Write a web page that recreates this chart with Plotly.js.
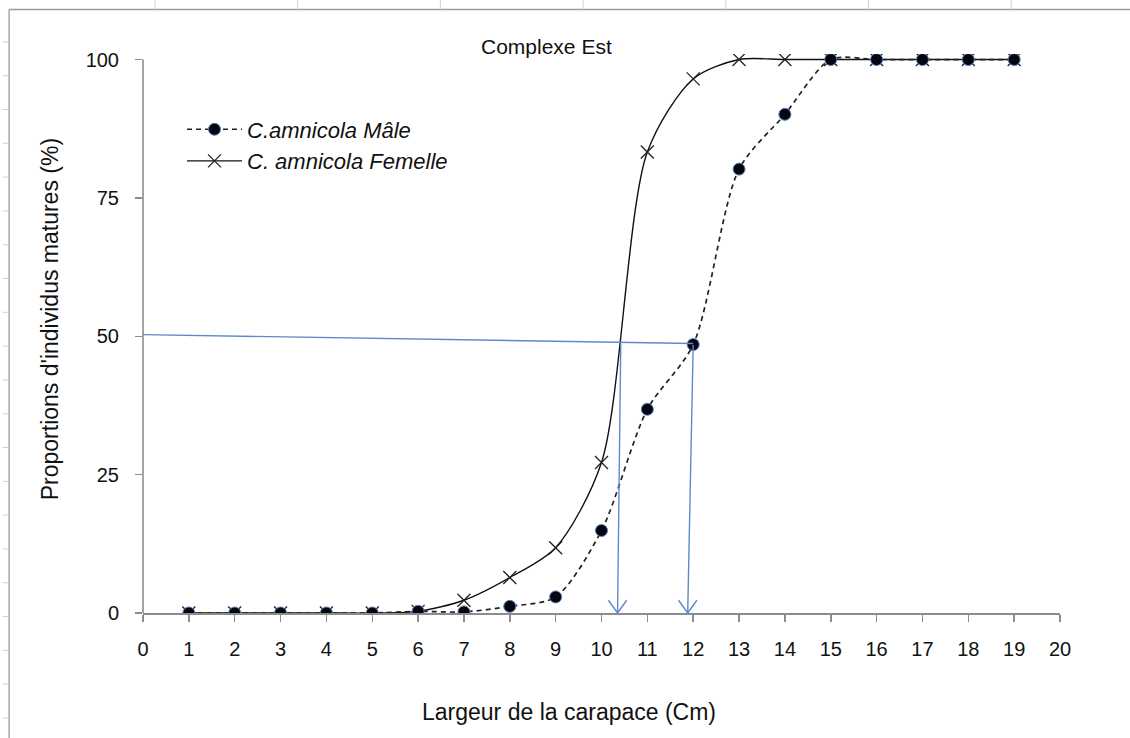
<!DOCTYPE html>
<html>
<head>
<meta charset="utf-8">
<script src="https://cdn.plot.ly/plotly-3.0.1.min.js"></script>
<style>html,body{margin:0;padding:0;background:#fff;}#chart{width:1130px;height:738px;}</style>
</head>
<body>
<div id="chart"></div>
<script>
// Data
const sizes = [1,2,3,4,5,6,7,8,9,10,11,12,13,14,15,16,17,18,19];
const maleValues = [0,0,0,0,0,0.3,0.2,1.2,2.9,14.9,36.8,48.5,80.2,90.1,100,100,100,100,100];
const femaleValues = [0,0,0,0,0,0.3,2.3,6.4,11.8,27.2,83.3,96.5,100,100,100,100,100,100,100];
const xTicks = [0,1,2,3,4,5,6,7,8,9,10,11,12,13,14,15,16,17,18,19,20];
const yTicks = [0,25,50,75,100];
// L50 reading guides (blue)
const guideStart = {x: 0, y: 50.3};
const guideEnd = {x: 12, y: 48.7};
const arrowTops = [{x: 10.42, y: 48.9}, {x: 12, y: 48.7}];
const arrowTips = [10.35, 11.88];

const blue = '#5b8bc9';
const axisGrey = '#8c8c8c';
const FONT = 'Liberation Sans, Arial, sans-serif';

const traces = [
  {
    x: sizes, y: femaleValues, name: 'C. amnicola Femelle',
    mode: 'lines+markers', type: 'scatter',
    line: {color: '#111', width: 1.4, shape: 'spline', smoothing: 0.8},
    marker: {symbol: 'x-thin', size: 13, line: {color: '#222', width: 1.3}, color: '#222'}
  },
  {
    x: sizes, y: maleValues, name: 'C.amnicola Mâle',
    mode: 'lines+markers', type: 'scatter',
    line: {color: '#222', width: 1.7, dash: '5px,4px', shape: 'spline', smoothing: 0.8},
    marker: {symbol: 'circle', size: 12, color: '#050510', line: {color: '#4f81bd', width: 1}}
  }
];

const shapes = [
  // y axis line, from 0 to the top tick only
  {type: 'line', xref: 'paper', yref: 'y', x0: 0, x1: 0, y0: 0, y1: yTicks[yTicks.length - 1],
   line: {color: axisGrey, width: 1.6}, layer: 'below'},
  {type: 'line', xref: 'x', yref: 'y', x0: guideStart.x, y0: guideStart.y, x1: guideEnd.x, y1: guideEnd.y,
   line: {color: blue, width: 1.4}},
  // page frame (left and top borders)
  {type: 'line', xref: 'paper', yref: 'paper', x0: -0.146, x1: -0.146, y0: -0.3, y1: 1.0794,
   line: {color: '#9a9a9a', width: 1.3}},
  {type: 'line', xref: 'paper', yref: 'paper', x0: -0.146, x1: 1.1, y0: 1.0794, y1: 1.0794,
   line: {color: '#9a9a9a', width: 1.5}}
];
// open V arrowheads at the bottom of the guides
arrowTips.forEach(xt => {
  shapes.push({type: 'path', xref: 'x', yref: 'y',
    path: `M${xt - 0.2},2.3 L${xt},0 L${xt + 0.2},2.3`,
    line: {color: blue, width: 1.4}});
});
// faint spreadsheet ticks on the frame
for (let k = 0; k < 7; k++) {
  const px = 155 + 142.7 * k;
  const xp = (px - 143) / 917;
  shapes.push({type: 'line', xref: 'paper', yref: 'paper', x0: xp, x1: xp, y0: 1.0794, y1: 1.103,
    line: {color: '#c9d3e0', width: 1}});
}
for (let k = 0; k < 21; k++) {
  const py = 47 + 33.5 * k;
  const yp = (613 - py) / 554;
  shapes.push({type: 'line', xref: 'paper', yref: 'paper', x0: -0.153, x1: -0.146, y0: yp, y1: yp,
    line: {color: '#c9d3e0', width: 1}});
}

// paper coordinates: plot area spans px 143..1060 horizontally, 613 (y=0) .. 53.5 (top) vertically
const PH = 613 - 53.5;
const annotations = [
  {text: 'Complexe Est', xref: 'paper', yref: 'paper', x: (546 - 143) / 917, y: (613 - 46) / PH,
   showarrow: false, xanchor: 'center', yanchor: 'middle',
   font: {family: FONT, size: 21, color: '#111'}},
  {text: "Proportions d'individus matures (%)", xref: 'paper', yref: 'paper',
   x: (50 - 143) / 917, y: (613 - 319) / PH, textangle: -90, showarrow: false,
   xanchor: 'center', yanchor: 'middle',
   font: {family: FONT, size: 23, color: '#111'}},
  {text: 'Largeur de la carapace (Cm)', xref: 'paper', yref: 'paper',
   x: (569 - 143) / 917, y: (613 - 712) / PH, showarrow: false,
   xanchor: 'center', yanchor: 'middle',
   font: {family: FONT, size: 23, color: '#111'}}
];
arrowTops.forEach((t, i) => {
  annotations.push({
    x: arrowTips[i], y: 0, ax: t.x, ay: t.y, xref: 'x', yref: 'y', axref: 'x', ayref: 'y',
    showarrow: true, arrowhead: 0, arrowwidth: 1.4, arrowcolor: blue,
    text: '', standoff: 0
  });
});

const layout = {
  width: 1130, height: 738,
  margin: {l: 143, r: 70, t: 53.5, b: 125},
  paper_bgcolor: '#fff', plot_bgcolor: '#fff',
  showlegend: true,
  legend: {
    x: (182 - 143) / 917, y: (613 - 108) / PH, xanchor: 'left', yanchor: 'top',
    bgcolor: 'rgba(0,0,0,0)', traceorder: 'reversed',
    font: {family: FONT, size: 22, color: '#111', style: 'italic'},
    itemwidth: 55, tracegroupgap: 0
  },
  xaxis: {
    range: [0, 20], tickvals: xTicks, ticktext: xTicks.map(String),
    showgrid: false, zeroline: false, showline: true, linecolor: axisGrey, linewidth: 1.6,
    ticks: 'outside', ticklen: 7, tickcolor: axisGrey, tickwidth: 1.5,
    ticklabelstandoff: 10,
    tickfont: {family: FONT, size: 20, color: '#111'},
    fixedrange: true
  },
  yaxis: {
    range: [0, 101], tickvals: yTicks, ticktext: yTicks.map(String),
    showgrid: false, zeroline: false, showline: false,
    ticks: 'outside', ticklen: 7, tickcolor: axisGrey, tickwidth: 1.5,
    ticklabelstandoff: 12,
    tickfont: {family: FONT, size: 20, color: '#111'},
    fixedrange: true
  },
  shapes: shapes,
  annotations: annotations
};

Plotly.newPlot('chart', traces, layout, {displayModeBar: false, staticPlot: true});
</script>
</body>
</html>
